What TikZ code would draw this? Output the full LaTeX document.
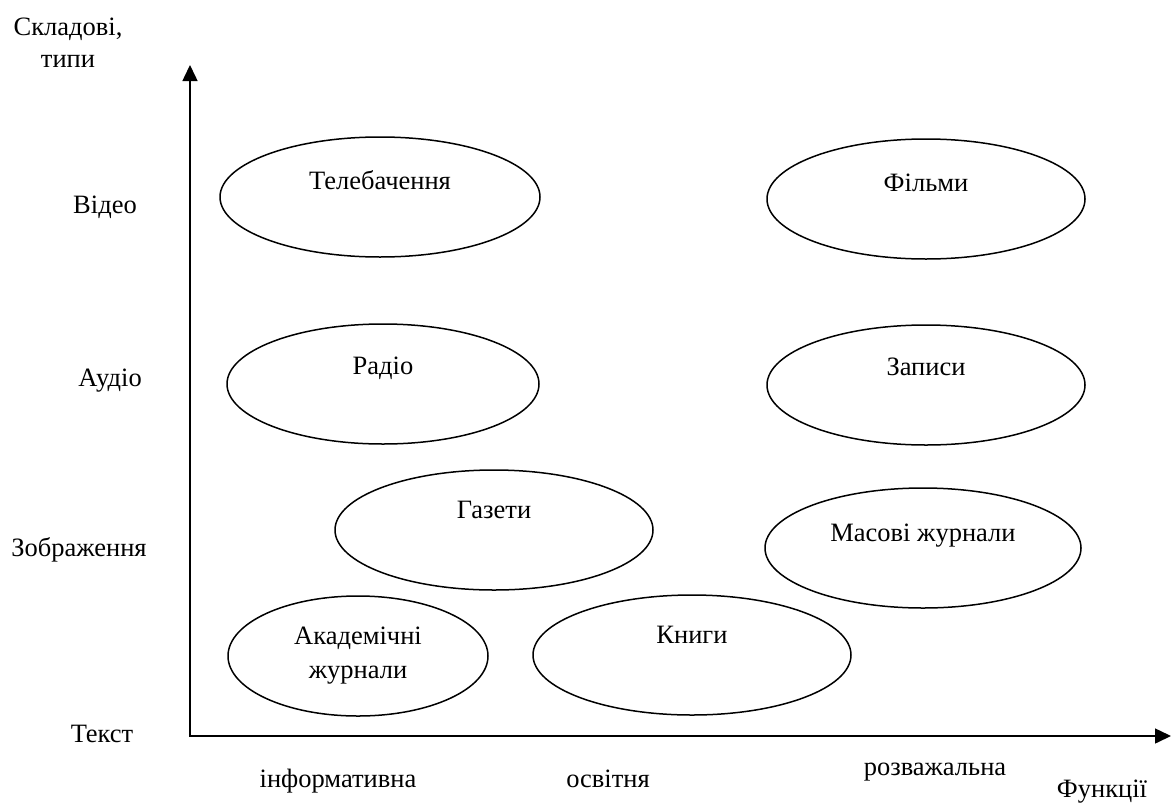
\documentclass[tikz,border=0pt]{standalone}
\usepackage{fontspec}
\setmainfont{Liberation Serif}
\usetikzlibrary{arrows.meta,shapes.geometric}
\tikzset{
  oval/.style={draw, ellipse, line width=1.5pt, minimum width=318pt, minimum height=120pt, inner sep=0pt},
  txt/.style={font=\fontsize{26.5}{34}\selectfont, inner sep=0pt, anchor=base},
  mtxt/.style={font=\fontsize{26.5}{34}\selectfont, inner sep=0pt, align=center},
  axis/.style={line width=1.5pt, {Triangle[length=16pt,width=15pt]}-{Triangle[length=16pt,width=15pt]}}
}
\begin{document}
\begin{tikzpicture}[x=1pt,y=-1pt]
\useasboundingbox (0,0) rectangle (1174,803);
% axes
\coordinate (O) at (190,736);
\coordinate (ytip) at (190,65);
\coordinate (xtip) at (1171,736);
\draw[axis] (ytip) -- (O) -- (xtip);
% ellipses
\node[oval, minimum width=320pt] (tv) at (380,197) {};
\node[oval] (films) at (926,199) {};
\node[oval, minimum width=312pt] (radio) at (383,384) {};
\node[oval] (records) at (926,385) {};
\node[oval] (gazety) at (494,530) {};
\node[oval, minimum width=316pt] (masovi) at (923,548) {};
\node[oval, minimum width=260pt] (acad) at (358,656) {};
\node[oval] (books) at (692,655) {};
% ellipse texts
\node[txt] (tvt) at ([yshift=8pt]tv.center) {Телебачення};
\node[txt] (filmst) at ([yshift=8pt]films.center) {Фільми};
\node[txt] (radiot) at ([yshift=10pt]radio.center) {Радіо};
\node[txt] (recordst) at ([yshift=10pt]records.center) {Записи};
\node[txt] (gazetyt) at ([yshift=12pt]gazety.center) {Газети};
\node[txt] (masovit) at ([yshift=7pt]masovi.center) {Масові журнали};
\node[txt] (bookst) at ([yshift=12pt]books.center) {Книги};
\node[mtxt] (acadt) at (acad.center) {Академічні\\журнали};
% y axis labels
\node[mtxt, font=\fontsize{26.5}{32}\selectfont] (ylabel) at (68,43) {Складові,\\типи};
\node[txt] (video) at (105,213) {Відео};
\node[txt] (audio) at (110,386) {Аудіо};
\node[txt] (image) at (79,556) {Зображення};
\node[txt] (text) at (102,742) {Текст};
% x axis labels
\node[txt] (inf) at (338,787) {інформативна};
\node[txt] (osv) at (608,787) {освітня};
\node[txt] (rozv) at (935,775) {розважальна};
\node[txt] (funk) at (1102,797) {Функції};
\end{tikzpicture}
\end{document}
